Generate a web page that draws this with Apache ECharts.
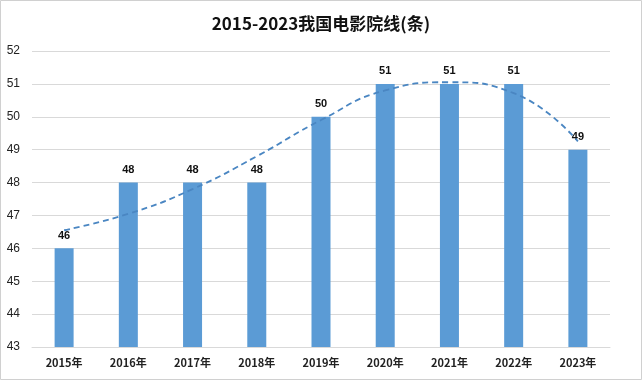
<!DOCTYPE html>
<html><head><meta charset="utf-8">
<script src="https://cdn.jsdelivr.net/npm/echarts@6/dist/echarts.min.js"></script>
<style>html,body{margin:0;padding:0;background:#fff}#c{width:642px;height:380px}</style>
</head><body><div id="c"></div>
<script>
const categories = ['2015年','2016年','2017年','2018年','2019年','2020年','2021年','2022年','2023年'];
const values = [46, 48, 48, 48, 50, 51, 51, 51, 49];
const trend = [46.55, 47.05, 47.8, 48.8, 49.9, 50.8, 51.05, 50.72, 49.25];
const yTicks = [43, 52, 1];

const chart = echarts.init(document.getElementById('c'));
chart.setOption({
  animation: false,
  backgroundColor: '#fff',
  title: {
    text: '2015-2023我国电影院线(条)', left: 'center', top: 10,
    textStyle: {fontFamily: 'Noto Sans CJK SC', fontWeight: 'bold', fontSize: 17, color: '#111'}
  },
  graphic: [{type: 'rect', shape: {x: 0.5, y: 0.5, width: 641, height: 379}, style: {fill: 'none', stroke: '#d0d0d0', lineWidth: 1}}],
  grid: {left: 32, right: 32, top: 51, bottom: 33},
  xAxis: {
    type: 'category', data: categories,
    axisLine: {lineStyle: {color: '#d9d9d9'}}, axisTick: {show: false},
    axisLabel: {color: '#222', fontSize: 11, fontWeight: 'bold', fontFamily: 'Noto Sans CJK SC', margin: 10}
  },
  yAxis: {
    type: 'value', min: yTicks[0], max: yTicks[1], interval: yTicks[2],
    axisLine: {show: false}, axisTick: {show: false},
    splitLine: {lineStyle: {color: '#d9d9d9'}},
    axisLabel: {color: '#222', fontSize: 12, fontFamily: 'Liberation Sans', margin: 12}
  },
  series: [{
    type: 'bar', data: values, barWidth: 19,
    itemStyle: {color: '#5b9bd5'},
    label: {show: true, position: 'top', color: '#111', fontSize: 11, fontWeight: 'bold', fontFamily: 'Liberation Sans', distance: 7}
  }, {
    type: 'line', data: trend, smooth: 0.5, symbol: 'none',
    lineStyle: {color: '#4a86c2', width: 1.8, type: [6, 4]}
  }]
});
</script></body></html>
